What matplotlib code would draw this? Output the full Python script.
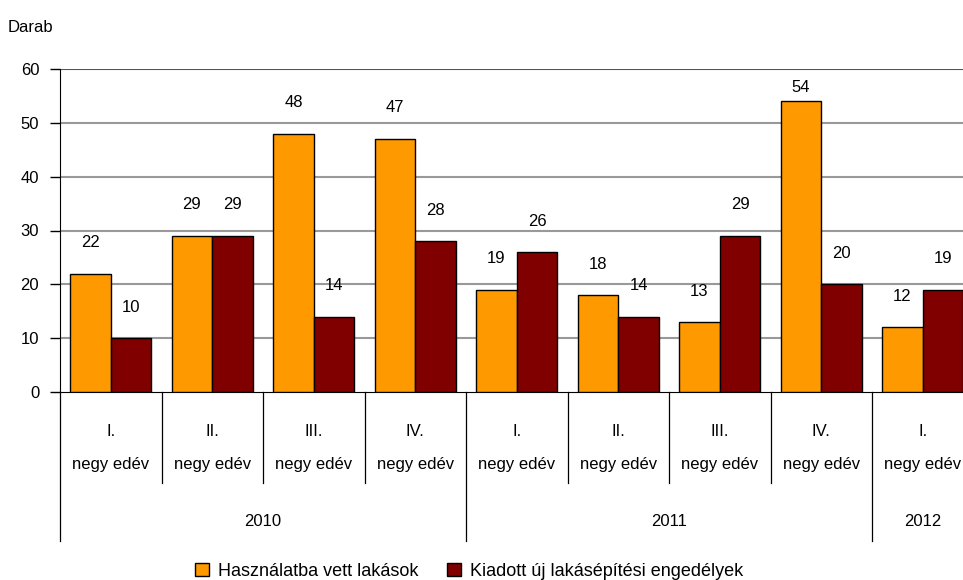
import matplotlib.pyplot as plt
import numpy as np

plt.rcParams['font.family'] = ['Liberation Sans', 'DejaVu Sans']

quarters = ["I.", "II.", "III.", "IV.", "I.", "II.", "III.", "IV.", "I."]
years = ["2010", "2011", "2012"]
year_counts = [4, 4, 1]
hasznalatba = [22, 29, 48, 47, 19, 18, 13, 54, 12]
kiadott = [10, 29, 14, 28, 26, 14, 29, 20, 19]

W, H = 963, 580
fig = plt.figure(figsize=(W / 100, H / 100), dpi=100)
cat_w = 101.5
ax = fig.add_axes([60 / W, 1 - 392 / H, 9 * cat_w / W, (392 - 69) / H])
px = 60 / (392 - 69)  # data units per pixel

x = np.arange(len(quarters))
bw = 0.4
b1 = ax.bar(x - bw / 2, hasznalatba, bw, color="#FF9900", edgecolor="black", linewidth=1,
            label="Használatba vett lakások", zorder=3)
b2 = ax.bar(x + bw / 2, kiadott, bw, color="#800000", edgecolor="black", linewidth=1,
            label="Kiadott új lakásépítési engedélyek", zorder=3)
for bars in (b1, b2):
    for r in bars:
        h = r.get_height()
        ly = h + 31 * px
        if ly > 58:
            ly = h + 14 * px
        ax.text(r.get_x() + r.get_width() / 2, ly, f"{int(h)}", ha="center", va="center", fontsize=12)

ax.set_xlim(-0.5, len(quarters) - 0.5)
ax.set_ylim(0, 60)
ax.set_yticks(range(0, 61, 10))
ax.tick_params(axis="y", labelsize=12, length=7, width=1, direction="out", pad=8)
ax.set_xticks([])
for y in range(10, 60, 10):
    ax.axhline(y, color="#999999", lw=1.5, zorder=1)
ax.axhline(60, color="#555555", lw=1.5, zorder=1)
for s in ["top", "right"]:
    ax.spines[s].set_visible(False)
ax.spines["left"].set_color("black")
ax.spines["bottom"].set_color("black")

trans = ax.get_xaxis_transform()
def fy(py):
    # pixel row from top -> axes y fraction
    return (392 - py) / (392 - 69)

for i, q in enumerate(quarters):
    ax.text(i, fy(432), q, transform=trans, ha="center", va="center", fontsize=12, clip_on=False)
    ax.text(i, fy(465), "negy edév", transform=trans, ha="center", va="center", fontsize=12, clip_on=False)

bounds = np.cumsum([0] + year_counts)
for b in range(len(quarters) + 1):
    bottom = 541 if b in bounds else 483
    ax.plot([b - 0.5, b - 0.5], [0, fy(bottom)], transform=trans, color="black", lw=0.9, clip_on=False)

for k, yr in enumerate(years):
    c = (bounds[k] + bounds[k + 1]) / 2 - 0.5
    ax.text(c, fy(521), yr, transform=trans, ha="center", va="center", fontsize=12, clip_on=False)

fig.text(8 / W, 1 - 27 / H, "Darab", fontsize=12, va="center", ha="left")

fig.legend(handles=[b1, b2], loc="center", bbox_to_anchor=(469 / W, 1 - 571 / H), ncol=2,
           frameon=False, fontsize=13, handlelength=0.75, handleheight=0.75, columnspacing=1.6,
           handletextpad=0.5, borderpad=0)

fig.savefig("out.png", dpi=100)
